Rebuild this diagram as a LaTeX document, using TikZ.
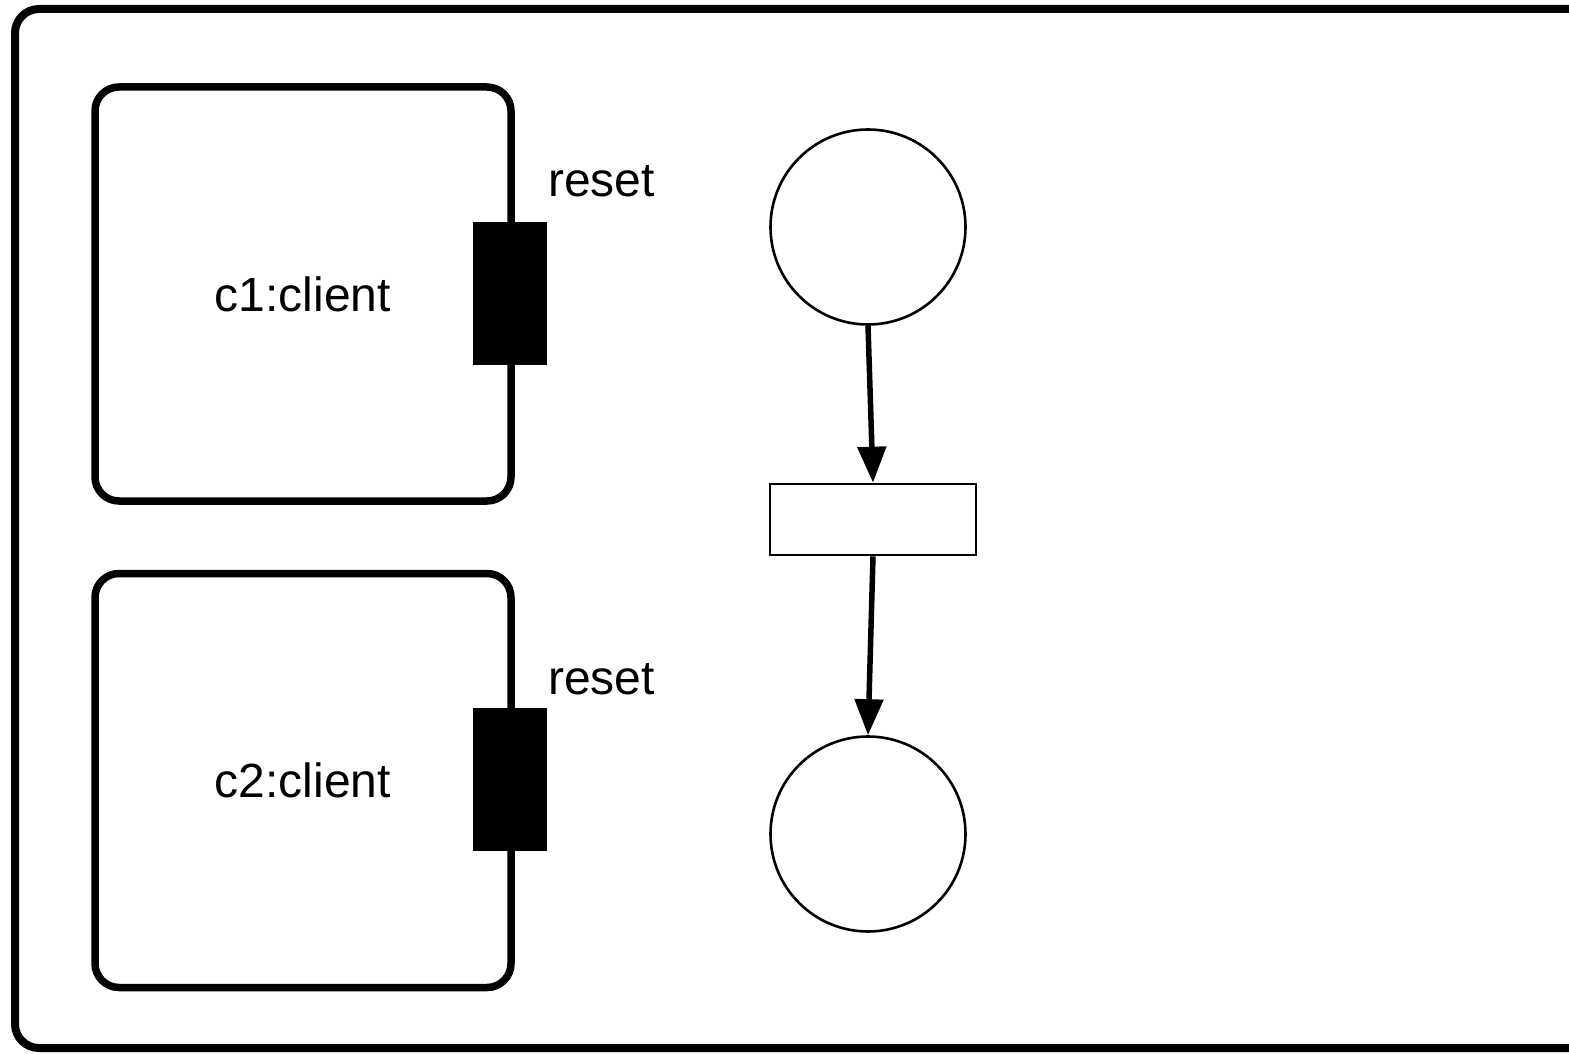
\documentclass[tikz,border=0pt]{standalone}
\usepackage{fontspec}
\setmainfont{Liberation Sans}
\usetikzlibrary{arrows.meta}
\begin{document}
\begin{tikzpicture}[x=1pt,y=-1pt,
  frame/.style={draw,line width=8pt,rounded corners=24pt},
  client/.style={draw,line width=7.5pt,rounded corners=24pt,minimum width=416pt,minimum height=414pt,inner sep=0pt,font=\fontsize{48}{56}\selectfont},
  port/.style={fill=black,draw=none,minimum width=74pt,minimum height=143pt,inner sep=0pt},
  lbl/.style={font=\fontsize{48}{56}\selectfont,inner sep=0pt,anchor=base west},
  place/.style={draw,circle,line width=2.6pt,minimum size=195pt,inner sep=0pt},
  trans/.style={draw,line width=2.6pt,minimum width=206pt,minimum height=71pt,inner sep=0pt},
  arc/.style={line width=5.5pt,-{Triangle[length=36pt,width=28pt]}}]
\useasboundingbox (0,0) rectangle (1569,1054);
\clip (0,0) rectangle (1569,1054);
\fill[white] (0,0) rectangle (1569,1054);
\draw[frame] (15,9) rectangle (1600,1048);
\node[client] (c1) at (303,294) {c1:client};
\node[client] (c2) at (303,780.5) {c2:client};
\node[port] (r1) at (510,293.5) {};
\node[port] (r2) at (510,779.5) {};
\node[lbl] (l1) at (548,196) {reset};
\node[lbl] (l2) at (548,694) {reset};
\node[place] (p1) at (868,227) {};
\node[trans] (t) at (873,519.5) {};
\node[place] (p2) at (868,834) {};
\draw[arc] (p1.south) -- (t.north);
\draw[arc] (t.south) -- (p2.north);
\end{tikzpicture}
\end{document}
